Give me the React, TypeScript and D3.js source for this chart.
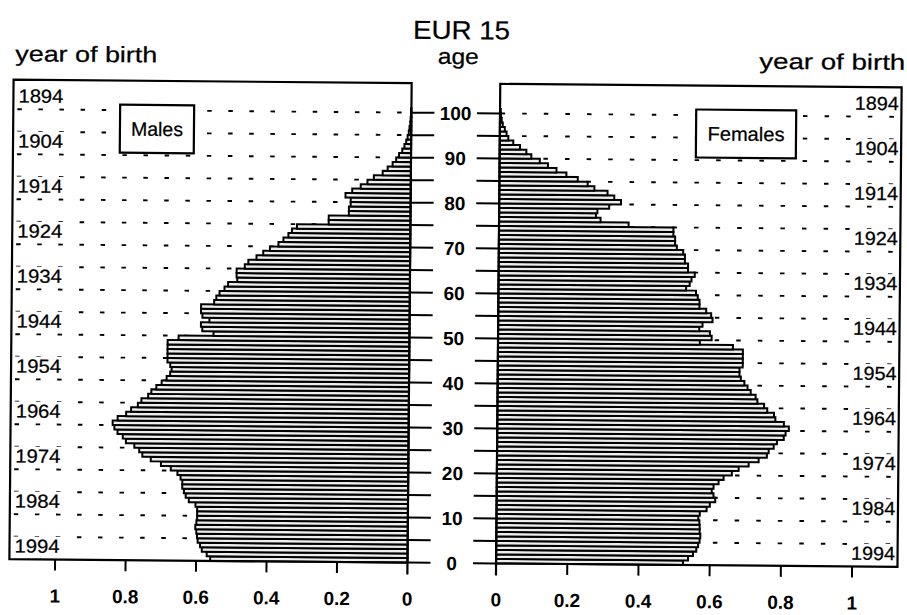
import React from 'react';
import * as d3 from 'd3';

// age groups 0..100, share of population (%) per single year of age
const ages = d3.range(0, 101);
const males = [
  0.56, 0.57, 0.584, 0.589, 0.596, 0.598, 0.6, 0.603, 0.6, 0.598,
  0.598, 0.598, 0.603, 0.622, 0.631, 0.636, 0.641, 0.641, 0.646, 0.655,
  0.674, 0.702, 0.731, 0.755, 0.764, 0.778, 0.802, 0.811, 0.826, 0.835,
  0.84, 0.826, 0.802, 0.788, 0.769, 0.759, 0.74, 0.731, 0.717, 0.702,
  0.688, 0.678, 0.674, 0.678, 0.686, 0.686, 0.686, 0.686, 0.686, 0.655,
  0.556, 0.588, 0.592, 0.568, 0.588, 0.592, 0.592, 0.555, 0.549, 0.54,
  0.526, 0.516, 0.49, 0.492, 0.492, 0.469, 0.459, 0.436, 0.417, 0.398,
  0.374, 0.36, 0.346, 0.336, 0.322, 0.232, 0.232, 0.175, 0.175, 0.17,
  0.17, 0.185, 0.166, 0.142, 0.123, 0.105, 0.08, 0.066, 0.052, 0.042,
  0.034, 0.025, 0.019, 0.014, 0.01, 0.007, 0.005, 0.003, 0.002, 0.001,
  0.001,
];
const females = [
  0.525, 0.539, 0.553, 0.562, 0.567, 0.571, 0.573, 0.571, 0.571, 0.57,
  0.567, 0.571, 0.59, 0.599, 0.614, 0.609, 0.604, 0.609, 0.623, 0.637,
  0.66, 0.679, 0.707, 0.735, 0.758, 0.763, 0.777, 0.786, 0.805, 0.81,
  0.819, 0.805, 0.781, 0.777, 0.758, 0.749, 0.73, 0.725, 0.711, 0.702,
  0.693, 0.683, 0.679, 0.679, 0.688, 0.688, 0.688, 0.688, 0.66, 0.567,
  0.6, 0.595, 0.565, 0.574, 0.602, 0.598, 0.584, 0.565, 0.565, 0.56,
  0.555, 0.527, 0.537, 0.542, 0.551, 0.532, 0.532, 0.523, 0.523, 0.518,
  0.5, 0.495, 0.495, 0.49, 0.49, 0.364, 0.285, 0.272, 0.276, 0.309,
  0.342, 0.323, 0.304, 0.267, 0.248, 0.22, 0.188, 0.16, 0.136, 0.113,
  0.089, 0.075, 0.057, 0.038, 0.024, 0.019, 0.014, 0.008, 0.005, 0.003,
  0.002,
];
const ageTicks = d3.range(0, 101, 5);
const ageLabels = d3.range(0, 101, 10);
const valueTicks = [0.2, 0.4, 0.6, 0.8, 1];
const valueLabels = [0, 0.2, 0.4, 0.6, 0.8, 1];
const birthYears = [1894, 1904, 1914, 1924, 1934, 1944, 1954, 1964, 1974, 1984, 1994];
const refYear = 1995.5; // birth year label sits at age refYear - year

const W = 907;
const H = 615;
const top = 83.5;
const bottom = 563;
const leftEdge = 11.5;
const axisM = 409.6;
const axisF = 498.2;
const rightEdge = 899.6;
const font = "'Liberation Sans', Arial, Helvetica, sans-serif";

const yAge = d3.scaleLinear().domain([0, 100]).range([bottom, 113]);
const xM = d3.scaleLinear().domain([0, 1]).range([axisM, 57.2]);
const xF = d3.scaleLinear().domain([0, 1]).range([axisF, 854.2]);

const barFill = '#ededed';
// scanned text looks a bit heavier than plain regular weight
const ink = { stroke: '#000', strokeWidth: 0.25 };

export default function App() {
  const dashRows = ageTicks.filter((a) => a > 0);
  return (
    <svg
      width={W}
      height={H}
      style={{ position: 'absolute', left: 0, top: 0, background: '#fff' }}
      fontFamily={font}
    >
      <rect width={W} height={H} fill="#fff" />
      <g transform="rotate(0.5 453 320)">
        {/* title row */}
        <text x={459} y={39} fontSize={26} textAnchor="middle" textLength={97} lengthAdjust="spacingAndGlyphs" {...ink}>
          EUR 15
        </text>
        <text x={13} y={65} fontSize={22} textLength={142} lengthAdjust="spacingAndGlyphs" {...ink}>
          year of birth
        </text>
        <text x={456} y={64} fontSize={22} textAnchor="middle" textLength={41} lengthAdjust="spacingAndGlyphs" {...ink}>
          age
        </text>
        <text x={903} y={66} fontSize={22} textAnchor="end" textLength={146} lengthAdjust="spacingAndGlyphs" {...ink}>
          year of birth
        </text>

        {/* dotted guide rows */}
        {dashRows.map((a) => (
          <g key={'d' + a} stroke="#000" strokeWidth={1.9}>
            <line x1={15.5} x2={axisM} y1={yAge(a)} y2={yAge(a)} strokeDasharray="4.5 16.6" />
            <line x1={498.8} x2={rightEdge} y1={yAge(a)} y2={yAge(a)} strokeDasharray="4.5 17.1" />
          </g>
        ))}

        {/* birth year labels with white backing */}
        {birthYears.map((yr) => {
          const yb = yAge(refYear - yr);
          return (
            <g key={'y' + yr}>
              <rect x={14} y={yb - 16} width={52} height={18} fill="#fff" />
              <rect x={849} y={yb - 16} width={49} height={18} fill="#fff" />
              <text x={16.5} y={yb} fontSize={19} textLength={45} lengthAdjust="spacingAndGlyphs" {...ink}>
                {yr}
              </text>
              <text x={897} y={yb} fontSize={19} textAnchor="end" textLength={44} lengthAdjust="spacingAndGlyphs" {...ink}>
                {yr}
              </text>
            </g>
          );
        })}

        {/* legend boxes */}
        <rect x={118.3} y={107.6} width={74} height={48} fill="#fff" stroke="#000" strokeWidth={2.2} />
        <text x={155.3} y={138.5} fontSize={19.5} textAnchor="middle" textLength={52} lengthAdjust="spacingAndGlyphs" {...ink}>
          Males
        </text>
        <rect x={694.4} y={107.4} width={100} height={48} fill="#fff" stroke="#000" strokeWidth={2.2} />
        <text x={744.4} y={138.3} fontSize={19.5} textAnchor="middle" textLength={77} lengthAdjust="spacingAndGlyphs" {...ink}>
          Females
        </text>

        {/* bars */}
        <g stroke="#000" strokeWidth={2} fill={barFill}>
          {ages.map((a, i) => (
            <rect
              key={'m' + a}
              x={xM(males[i])}
              y={yAge(a + 1)}
              width={axisM - xM(males[i])}
              height={yAge(a) - yAge(a + 1)}
            />
          ))}
          {ages.map((a, i) => (
            <rect
              key={'f' + a}
              x={axisF}
              y={yAge(a + 1)}
              width={xF(females[i]) - axisF}
              height={yAge(a) - yAge(a + 1)}
            />
          ))}
        </g>

        {/* frames */}
        <g fill="none" stroke="#000" strokeWidth={2.2}>
          <path d={`M${axisM},${bottom + 12} V${top} H${leftEdge} V${bottom} H${axisM}`} />
          <path d={`M${axisF},${bottom + 12} V${top} H${rightEdge} V${bottom} H${axisF}`} />
        </g>

        {/* age axis ticks and labels */}
        <g stroke="#000" strokeWidth={2}>
          {ageTicks.map((a) => (
            <g key={'t' + a}>
              <line x1={axisM} x2={axisM + 23} y1={yAge(a)} y2={yAge(a)} />
              <line x1={axisF - 23} x2={axisF} y1={yAge(a)} y2={yAge(a)} />
            </g>
          ))}
        </g>
        {ageLabels.map((a) => (
          <text key={'l' + a} x={453.8} y={yAge(a) + 7} fontSize={19} fontWeight="bold" textAnchor="middle">
            {a}
          </text>
        ))}

        {/* value axes */}
        <g stroke="#000" strokeWidth={2}>
          {valueTicks.map((v) => (
            <g key={'v' + v}>
              <line x1={xM(v)} x2={xM(v)} y1={bottom} y2={bottom + 11} />
              <line x1={xF(v)} x2={xF(v)} y1={bottom} y2={bottom + 11} />
            </g>
          ))}
        </g>
        {valueLabels.map((v) => (
          <g key={'vl' + v} fontSize={19} fontWeight="bold" textAnchor="middle">
            <text x={xM(v)} y={606}>{String(v)}</text>
            <text x={xF(v)} y={606}>{String(v)}</text>
          </g>
        ))}
      </g>
    </svg>
  );
}
